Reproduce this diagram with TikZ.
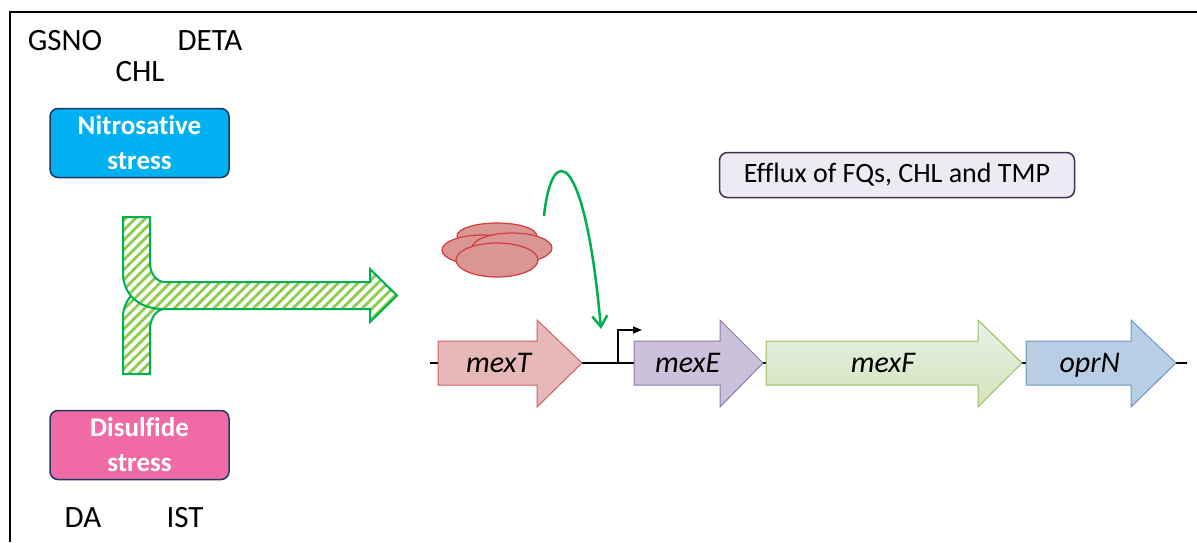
\documentclass[tikz,border=0pt]{standalone}
\usepackage{fontspec}
\setmainfont{Carlito}[Ligatures=NoCommon]
\usetikzlibrary{positioning, shapes.geometric, arrows.meta, patterns.meta}
\definecolor{nitro}{HTML}{00B0F0}
\definecolor{disul}{HTML}{F06AA5}
\definecolor{navy}{HTML}{1F3864}
\definecolor{hatchgreen}{HTML}{8CCC4C}
\definecolor{darkgreen}{HTML}{00B050}
\definecolor{protfill}{HTML}{D99694}
\definecolor{protline}{HTML}{D43C3C}
\definecolor{effluxfill}{HTML}{EEEAF4}
\definecolor{effluxline}{HTML}{403152}
\definecolor{mexTfill}{HTML}{E6B9B8}
\definecolor{mexTline}{HTML}{D35F5F}
\definecolor{mexEfill}{HTML}{CCC1DA}
\definecolor{mexEline}{HTML}{8C7AAE}
\definecolor{mexFtop}{HTML}{E6F2EA}
\definecolor{mexFbot}{HTML}{D3E3B8}
\definecolor{mexFline}{HTML}{9BBB59}
\definecolor{oprNfill}{HTML}{B9CDE5}
\definecolor{oprNline}{HTML}{6F95C6}
\newcommand{\genearrow}[7]{\draw[gene, #4, draw=#5] (#1,341) -- (#2,341) -- (#2,320) -- (#3,363) -- (#2,407) -- (#2,385) -- (#1,385) -- cycle;
\node[genename] (#6) at ({(2*#1+#2+#3)/4},372) {#7};}

\begin{document}
\begin{tikzpicture}[x=1pt,y=-1pt,>=stealth,
stressbox/.style={draw=navy, line width=1.5pt, rounded corners=8pt, minimum width=179pt, minimum height=69pt, text=white, align=center, font=\fontsize{27}{35}\selectfont\bfseries},
agent/.style={inner sep=0pt, font=\fontsize{31}{31}\selectfont},
prot/.style={ellipse, draw=protline, fill=protfill, line width=1.2pt, inner sep=0pt},
gene/.style={line width=1pt},
genename/.style={anchor=base, inner sep=0pt, font=\fontsize{30}{30}\selectfont\itshape},
hatch/.style={draw=darkgreen, line width=2pt, preaction={fill=white}, pattern={Lines[angle=45,distance=7pt,line width=2.8pt]}, pattern color=hatchgreen},
signal/.style={draw=darkgreen, line width=2.5pt, -{Straight Barb[length=11pt,width=15pt]}}]
\useasboundingbox (0,0) rectangle (1197,542);
\draw[line width=2.5pt] (10,542) |- (1197,12);

\node[agent] (gsno) at (65,41) {GSNO};
\node[agent] (chl) at (140,72) {CHL};
\node[agent] (deta) at (210,41) {DETA};
\node[stressbox, fill=nitro] (nitro) at (139.5,143) {Nitrosative\\stress};
\node[stressbox, fill=disul] (disul) at (139.5,445) {Disulfide\\stress};
\node[agent] (da) at (83,518) {DA};
\node[agent] (ist) at (185,518) {IST};

\draw[hatch] (123,374) -- (123,317) .. controls (123,297) and (141,282) .. (165,282) -- (165,309) .. controls (156,309) and (150,319) .. (150,329) -- (150,374) -- cycle;
\draw[hatch] (123,217) -- (123,273) .. controls (123,296) and (141,309) .. (163,309) -- (370,309) -- (370,322) -- (397,295.5) -- (370,269) -- (370,282) -- (165,282) .. controls (156,282) and (150,273) .. (150,263) -- (150,217) -- cycle;

\node[prot, minimum width=80pt, minimum height=26pt] (protback) at (497,236) {};
\node[prot, minimum width=80pt, minimum height=30pt] (protleft) at (482,250) {};
\node[prot, minimum width=80pt, minimum height=30pt] (protright) at (512,248) {};
\node[prot, minimum width=82pt, minimum height=34pt] (protfront) at (497,260) {};

\node[draw=effluxline, fill=effluxfill, line width=1.5pt, rounded corners=8pt, minimum width=355pt, minimum height=45pt, font=\fontsize{28}{28}\selectfont] (efflux) at (897,175) {Efflux of FQs, CHL and TMP};

\coordinate (lineL) at (430,363);
\coordinate (lineR) at (1187,363);
\draw[line width=1.2pt] (lineL) -- (lineR);
\genearrow{438}{537}{582}{fill=mexTfill}{mexTline}{mexT}{mexT}
\genearrow{634}{720}{763}{fill=mexEfill}{mexEline}{mexE}{mexE}
\genearrow{766}{978}{1022}{top color=mexFtop, bottom color=mexFbot}{mexFline}{mexF}{mexF}
\genearrow{1026}{1131}{1176}{fill=oprNfill}{oprNline}{oprN}{oprN}

\coordinate (prom) at (618,363);
\coordinate (promtip) at (642,330);
\draw[line width=1.2pt, -{Triangle[length=9pt,width=7pt]}] (prom) |- (promtip);

\coordinate (sig) at (544,216);
\coordinate (bind) at (601,329);
\draw[signal] (sig) .. controls (552,140) and (585,150) .. (bind);
\end{tikzpicture}
\end{document}
